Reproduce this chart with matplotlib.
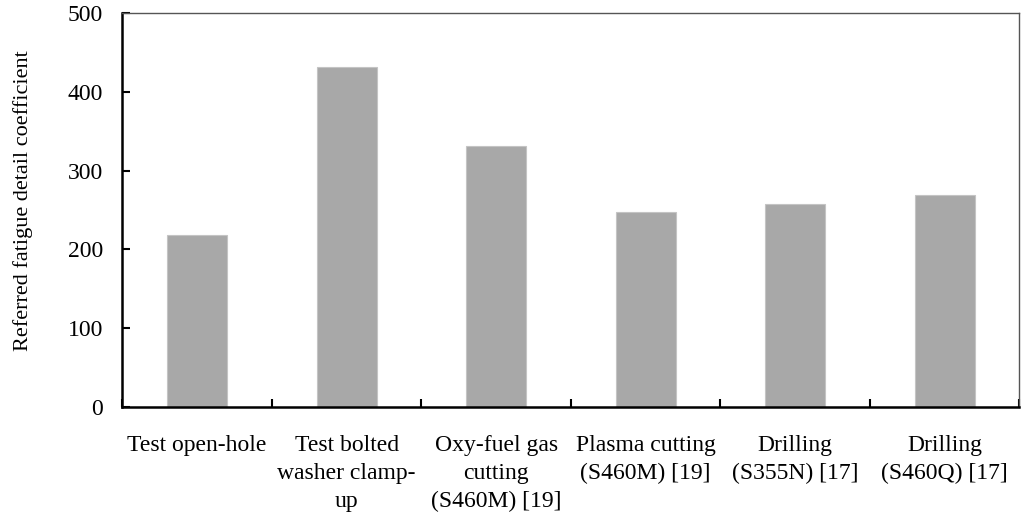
import matplotlib.pyplot as plt
import numpy as np

# categories and values
labels = ["Test open-hole", "Test bolted\nwasher clamp-\nup", "Oxy-fuel gas\ncutting\n(S460M) [19]",
          "Plasma cutting\n(S460M) [19]", "Drilling\n(S355N) [17]", "Drilling\n(S460Q) [17]"]
values = [218, 431, 331, 247, 257, 269]
yticks = [0, 100, 200, 300, 400, 500]

plt.rcParams['font.family'] = ['Liberation Serif', 'DejaVu Serif']

fig = plt.figure(figsize=(10.24, 5.21), dpi=100)
ax = fig.add_axes([0.1195, 0.219, 0.876, 0.756])

x = np.arange(len(values))
ax.bar(x, values, width=0.4, color='#a8a8a8', edgecolor='#c4c4c4', linewidth=0.8)

ax.set_xlim(-0.5, len(values) - 0.5)
ax.set_ylim(0, 500)
ax.set_yticks(yticks)
ax.set_yticklabels([str(v) for v in yticks], fontsize=17)

# x ticks sit on category boundaries, labels centred under bars
ax.set_xticks(np.arange(len(values) + 1) - 0.5)
ax.set_xticklabels([])
ax.set_xticks(x, minor=True)
ax.set_xticklabels(labels, minor=True, fontsize=17, linespacing=1.45)
ax.tick_params(axis='x', which='minor', length=0, pad=20)
ax.tick_params(axis='x', which='major', direction='in', length=6, width=1.5)
ax.tick_params(axis='y', direction='in', length=6, width=1.5, pad=14)

for s in ['left', 'bottom']:
    ax.spines[s].set_linewidth(1.8)
for s in ['top', 'right']:
    ax.spines[s].set_linewidth(1.0)
    ax.spines[s].set_color('#555555')

ax.set_ylabel("Referred fatigue detail coefficient", fontsize=16)
ax.yaxis.set_label_coords(-0.1, 0.523)

fig.savefig("out.png", dpi=100)
